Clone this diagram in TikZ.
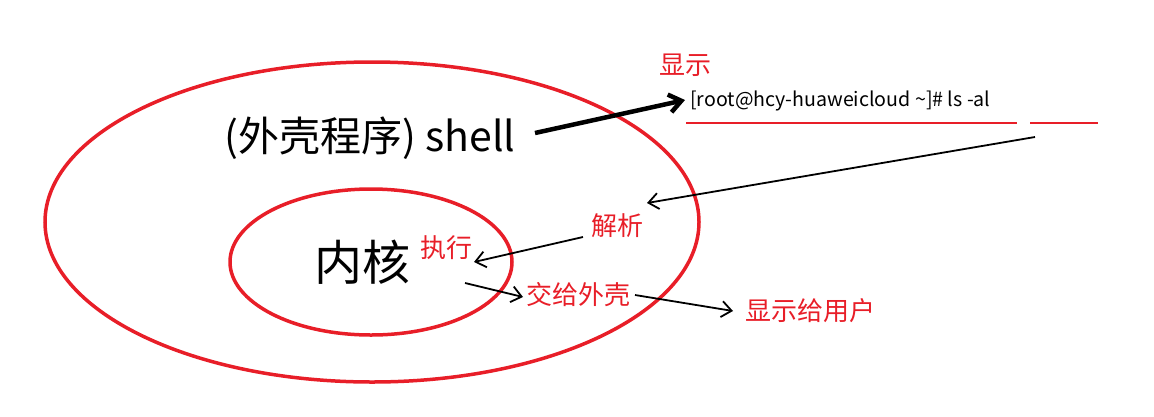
\documentclass[tikz,border=0pt]{standalone}
\usepackage{fontspec}
\setmainfont{Noto Sans CJK SC}
\usetikzlibrary{arrows.meta}
\definecolor{myred}{RGB}{232,30,40}
\begin{document}
\begin{tikzpicture}[x=1pt,y=-1pt,
  ring/.style={draw=myred,line width=3.5pt},
  lbl/.style={text=myred,font=\fontsize{26}{28}\selectfont,inner sep=0pt},
  arr/.style={-{Straight Barb[length=10pt,width=16pt]},line width=1.8pt},
  uline/.style={draw=myred,line width=1.5pt}]
\useasboundingbox (0,0) rectangle (1154,416);
\draw[ring] (372,222) ellipse [x radius=327, y radius=160];
\draw[ring] (371,262) ellipse [x radius=141, y radius=73];
\node[inner sep=0pt,font=\fontsize{41}{43}\selectfont] (shell) at (370,138) {(外壳程序) shell};
\node[inner sep=0pt,font=\fontsize{48}{50}\selectfont] (kern) at (362,262) {内核};
\node[lbl] (show) at (685,65) {显示};
\node[inner sep=0pt,anchor=west,font=\fontsize{19.6}{21}\selectfont] (cmd) at (690,101) {[root@hcy-huaweicloud \textasciitilde]\# ls -al};
\coordinate (u1a) at (686,123); \coordinate (u1b) at (1017,123);
\coordinate (u2a) at (1030,123); \coordinate (u2b) at (1098,123);
\draw[uline] (u1a) -- (u1b);
\draw[uline] (u2a) -- (u2b);
\node[lbl] (parse) at (617,226) {解析};
\node[lbl] (exec) at (446,248) {执行};
\node[lbl] (give) at (578,295) {交给外壳};
\node[lbl] (user) at (810,311) {显示给用户};
\coordinate (a0) at (535,133); \coordinate (a1) at (685,100);
\draw[-{Straight Barb[length=12pt,width=18pt]},line width=4.5pt] (a0) -- (a1);
\coordinate (b0) at (1035,137); \coordinate (b1) at (647,203);
\draw[arr] (b0) -- (b1);
\coordinate (c0) at (583,237); \coordinate (c1) at (474,262);
\draw[arr] (c0) -- (c1);
\coordinate (d0) at (465,283); \coordinate (d1) at (523,297);
\draw[arr] (d0) -- (d1);
\coordinate (e0) at (635,295); \coordinate (e1) at (733,311);
\draw[arr] (e0) -- (e1);
\end{tikzpicture}
\end{document}
